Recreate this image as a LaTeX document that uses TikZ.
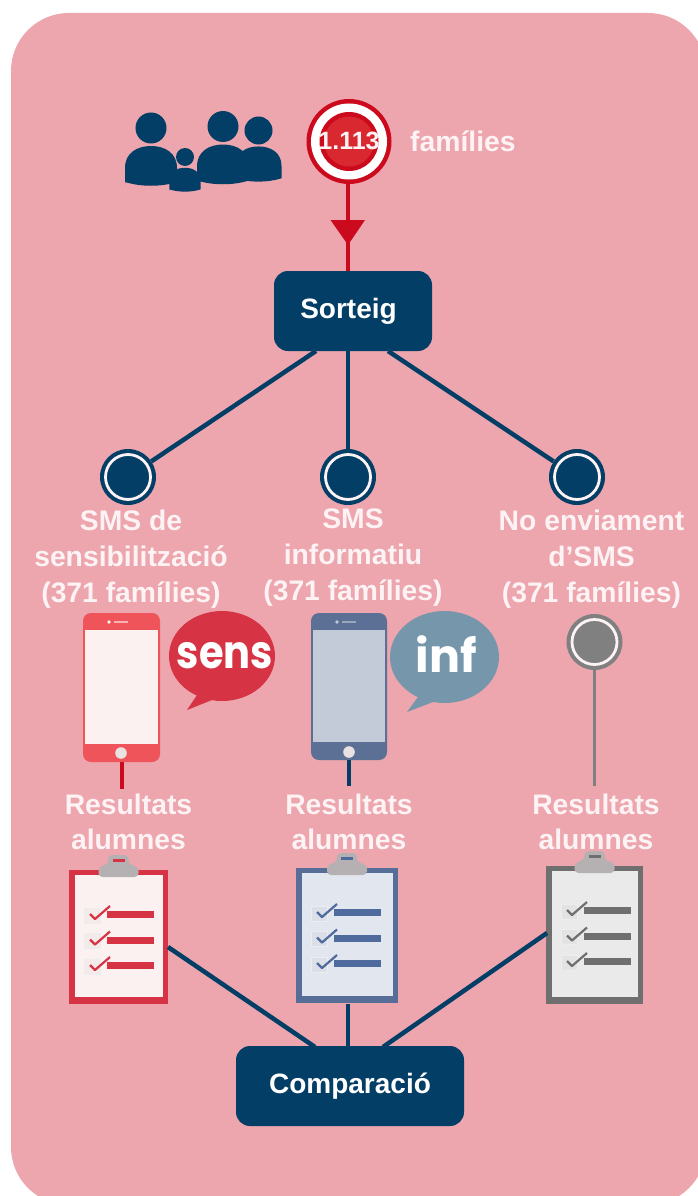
\documentclass[tikz,border=0pt]{standalone}
\usepackage{fontspec}
\setmainfont{Liberation Sans}
\newfontfamily\bubfont{Poppins}
\definecolor{bgpink}{HTML}{EDA5AE}
\definecolor{navy}{HTML}{023E66}
\definecolor{crim}{HTML}{CC0A1E}
\definecolor{rosered}{HTML}{D63344}
\definecolor{inner}{HTML}{D9282F}
\definecolor{phonered}{HTML}{EE5459}
\definecolor{phoneblue}{HTML}{5C6F94}
\definecolor{screenred}{HTML}{FBF1F0}
\definecolor{screenblue}{HTML}{C3CBD9}
\definecolor{bubblue}{HTML}{7596AB}
\definecolor{softwhite}{HTML}{FDF3F4}
\definecolor{bluebar}{HTML}{4F6A9C}
\definecolor{clipblue}{HTML}{E2E6EE}
\definecolor{clipgrey}{HTML}{EAEAEA}
\definecolor{barg}{HTML}{6F6F6F}
\definecolor{tabgrey}{HTML}{B5B0B2}
\definecolor{dotgrey}{HTML}{808080}
\tikzset{
 x=1pt,y=-1pt,
 lbl/.style={font=\bfseries\fontsize{28.3}{35.7}\selectfont,text=softwhite,align=center,inner sep=0pt},
 boxn/.style={fill=navy,rounded corners=14pt,text=white,font=\bfseries\fontsize{28}{30}\selectfont,inner sep=0pt},
 dotn/.style={circle,fill=#1,minimum size=56pt,inner sep=0pt,path picture={\draw[softwhite,line width=2.8pt] (path picture bounding box.center) circle[radius=22.5];}},
 link/.style={draw=navy,line width=4.5pt},
}
\newcommand{\person}[4]{% head x, head y, head radius, body scale
 \fill[navy] (#1,#2) circle[radius=#3];
 \fill[navy] ({#1-#4*26},{#2+#4*57}) -- ({#1-#4*26},{#2+#4*40}) .. controls ({#1-#4*26},{#2+#4*25}) and ({#1-#4*14},{#2+#4*18}) .. ({#1},{#2+#4*18})
   .. controls ({#1+#4*14},{#2+#4*18}) and ({#1+#4*26},{#2+#4*25}) .. ({#1+#4*26},{#2+#4*40}) -- ({#1+#4*26},{#2+#4*54})
   .. controls ({#1+#4*10},{#2+#4*59}) and ({#1-#4*10},{#2+#4*59}) .. ({#1-#4*26},{#2+#4*54}) -- cycle;
}
\newcommand{\phone}[8]{% left, right, top, bottom, body, screen, home x, home y
 \fill[#5,rounded corners=8pt] (#1,#3) rectangle (#2,#4);
 \fill[#6] ({#1+2},{#3+17}) rectangle ({#2-2},{#4-18});
 \fill[#6!60!#5] ({#7-7},{#3+8}) rectangle ({#7+7},{#3+10});
 \fill[#6] ({#7-12},{#3+9}) circle[radius=1.8];
 \fill[softwhite!85!gray] (#7,#8) circle[radius=5.8];
}
\newcommand{\clipboard}[7]{% left, top, right, bottom, border, paper, bars
 \fill[#5] (#1,#2) rectangle (#3,#4);
 \fill[#6] ({#1+5.5},{#2+4.5}) rectangle ({#3-5},{#4-7});
 \fill[tabgrey,rounded corners=4pt] ({(#1+#3)/2-20},{#2+7}) -- ({(#1+#3)/2-20},{#2-3}) -- ({(#1+#3)/2-10},{#2-6}) -- ({(#1+#3)/2-10},{#2-15}) -- ({(#1+#3)/2+10},{#2-15}) -- ({(#1+#3)/2+10},{#2-6}) -- ({(#1+#3)/2+20},{#2-3}) -- ({(#1+#3)/2+20},{#2+7}) -- cycle;
 \fill[#7] ({(#1+#3)/2-6},{#2-11}) rectangle ({(#1+#3)/2+6},{#2-8});
 \foreach \dy in {0,25.5,51}{
  \fill[#6!97!black,draw=black!7] ({#1+15.5},{#2+38+\dy}) rectangle ({#1+31},{#2+53+\dy});
  \draw[#7,line width=2.2pt,line join=round] ({#1+21},{#2+44+\dy}) -- ({#1+26},{#2+49+\dy}) -- ({#1+41},{#2+36+\dy});
  \fill[#7] ({#1+38},{#2+41+\dy}) rectangle ({#1+85},{#2+48+\dy});
 }
}
\begin{document}
\begin{tikzpicture}
\useasboundingbox (0,0) rectangle (697,1196);
\fill[white] (0,0) rectangle (697,1196);
\fill[bgpink,rounded corners=58pt] (11,13) rectangle (706,1205);

% people
\person{151}{128}{15.5}{1}
\person{223}{126.5}{15.5}{1}
\person{258.5}{130.5}{14}{.885}
\person{185}{157}{9}{.6}

% top marker
\node[circle,fill=crim,minimum size=85pt,inner sep=0pt] (ring) at (349,141.5) {};
\node[circle,fill=white,minimum size=76pt,inner sep=0pt] (ringw) at (349,141.5) {};
\node[circle,fill=crim,minimum size=59pt,inner sep=0pt] (ringr) at (349,141.5) {};
\node[circle,fill=inner,minimum size=50pt,inner sep=0pt] (ringi) at (349,141.5) {};
\node[font=\bfseries\fontsize{25}{26}\selectfont,text=softwhite,inner sep=0pt] (count) at (349,141) {1.113};
\node[lbl,anchor=west] (fam) at (410,141) {famílies};

% boxes
\node[boxn,minimum width=158pt,minimum height=80pt] (sort) at (353,311) {Sorteig\kern9pt};
\node[boxn,minimum width=228pt,minimum height=80pt] (comp) at (350,1086) {\raisebox{-3pt}{Comparació}};

% red arrow
\coordinate (vtop) at (348,184);
\coordinate (vbot) at (348,271);
\draw[crim,line width=3.6pt] (vtop) -- (vbot);
\fill[crim] (330.5,220) -- (365,220) -- (348,245) -- cycle;

% branch dots and links
\node[dotn=navy] (d1) at (128,477) {};
\node[dotn=navy] (d2) at (348,477) {};
\node[dotn=navy] (d3) at (577,477) {};
\coordinate (s1) at (316,351);
\coordinate (s2) at (348,351);
\coordinate (s3) at (388,351);
\draw[link] (s1) -- (d1);
\draw[link] (s2) -- (d2);
\draw[link] (s3) -- (d3);

% group labels
\node[lbl] (t1) at (131,559) {SMS de\\sensibilització\\(371 famílies)};
\node[lbl] (t2) at (353,557.5) {SMS\\informatiu\\(371 famílies)};
\node[lbl] (t3) at (591.5,559) {No enviament\\d’SMS\\(371 famílies)};

% phones
\phone{83}{160}{613}{762}{phonered}{screenred}{121}{753}
\phone{311}{387}{613}{760}{phoneblue}{screenblue}{349}{752}
\coordinate (p1) at (122,762);
\coordinate (p2) at (349,760);

% bubbles
\fill[rosered] (222,656) ellipse[x radius=53,y radius=45];
\fill[rosered] (197,695) -- (187,710) -- (212,700) -- cycle;
\node[font=\bubfont\bfseries\fontsize{40}{40}\selectfont,text=white,inner sep=0pt] (bs) at (225,656) {\scalebox{1}[1.15]{sens}};
\fill[bubblue] (444.5,657) ellipse[x radius=54.5,y radius=46];
\fill[bubblue] (418,697) -- (407,712) -- (433,702) -- cycle;
\node[font=\bubfont\bfseries\fontsize{46}{46}\selectfont,text=white,inner sep=0pt] (bi) at (446,654) {inf};

% grey dot
\node[dotn=dotgrey] (g) at (594.5,642) {};

% results
\node[lbl] (r1) at (128.5,822) {Resultats\\alumnes};
\node[lbl] (r2) at (349,822) {Resultats\\alumnes};
\node[lbl] (r3) at (596,822) {Resultats\\alumnes};
\coordinate (e1) at (122,789);
\coordinate (e2) at (349,786);
\coordinate (e3) at (594.5,786);
\draw[crim,line width=3.6pt] (p1) -- (e1);
\draw[navy,line width=3.6pt] (p2) -- (e2);
\draw[dotgrey,line width=3.6pt] (g) -- (e3);

% clipboards
\clipboard{69}{870}{168}{1004}{rosered}{screenred}{rosered}
\clipboard{296}{868}{398}{1003}{bluebar!85!gray}{clipblue}{bluebar}
\clipboard{546}{866}{643}{1004}{barg}{clipgrey}{barg}

\coordinate (c1) at (168,947);
\coordinate (c2) at (348,1004);
\coordinate (c3) at (547,933);
\coordinate (b1) at (315,1047);
\coordinate (b2) at (348,1047);
\coordinate (b3) at (383,1047);
\draw[link] (c1) -- (b1);
\draw[link] (c2) -- (b2);
\draw[link] (c3) -- (b3);
\end{tikzpicture}
\end{document}
